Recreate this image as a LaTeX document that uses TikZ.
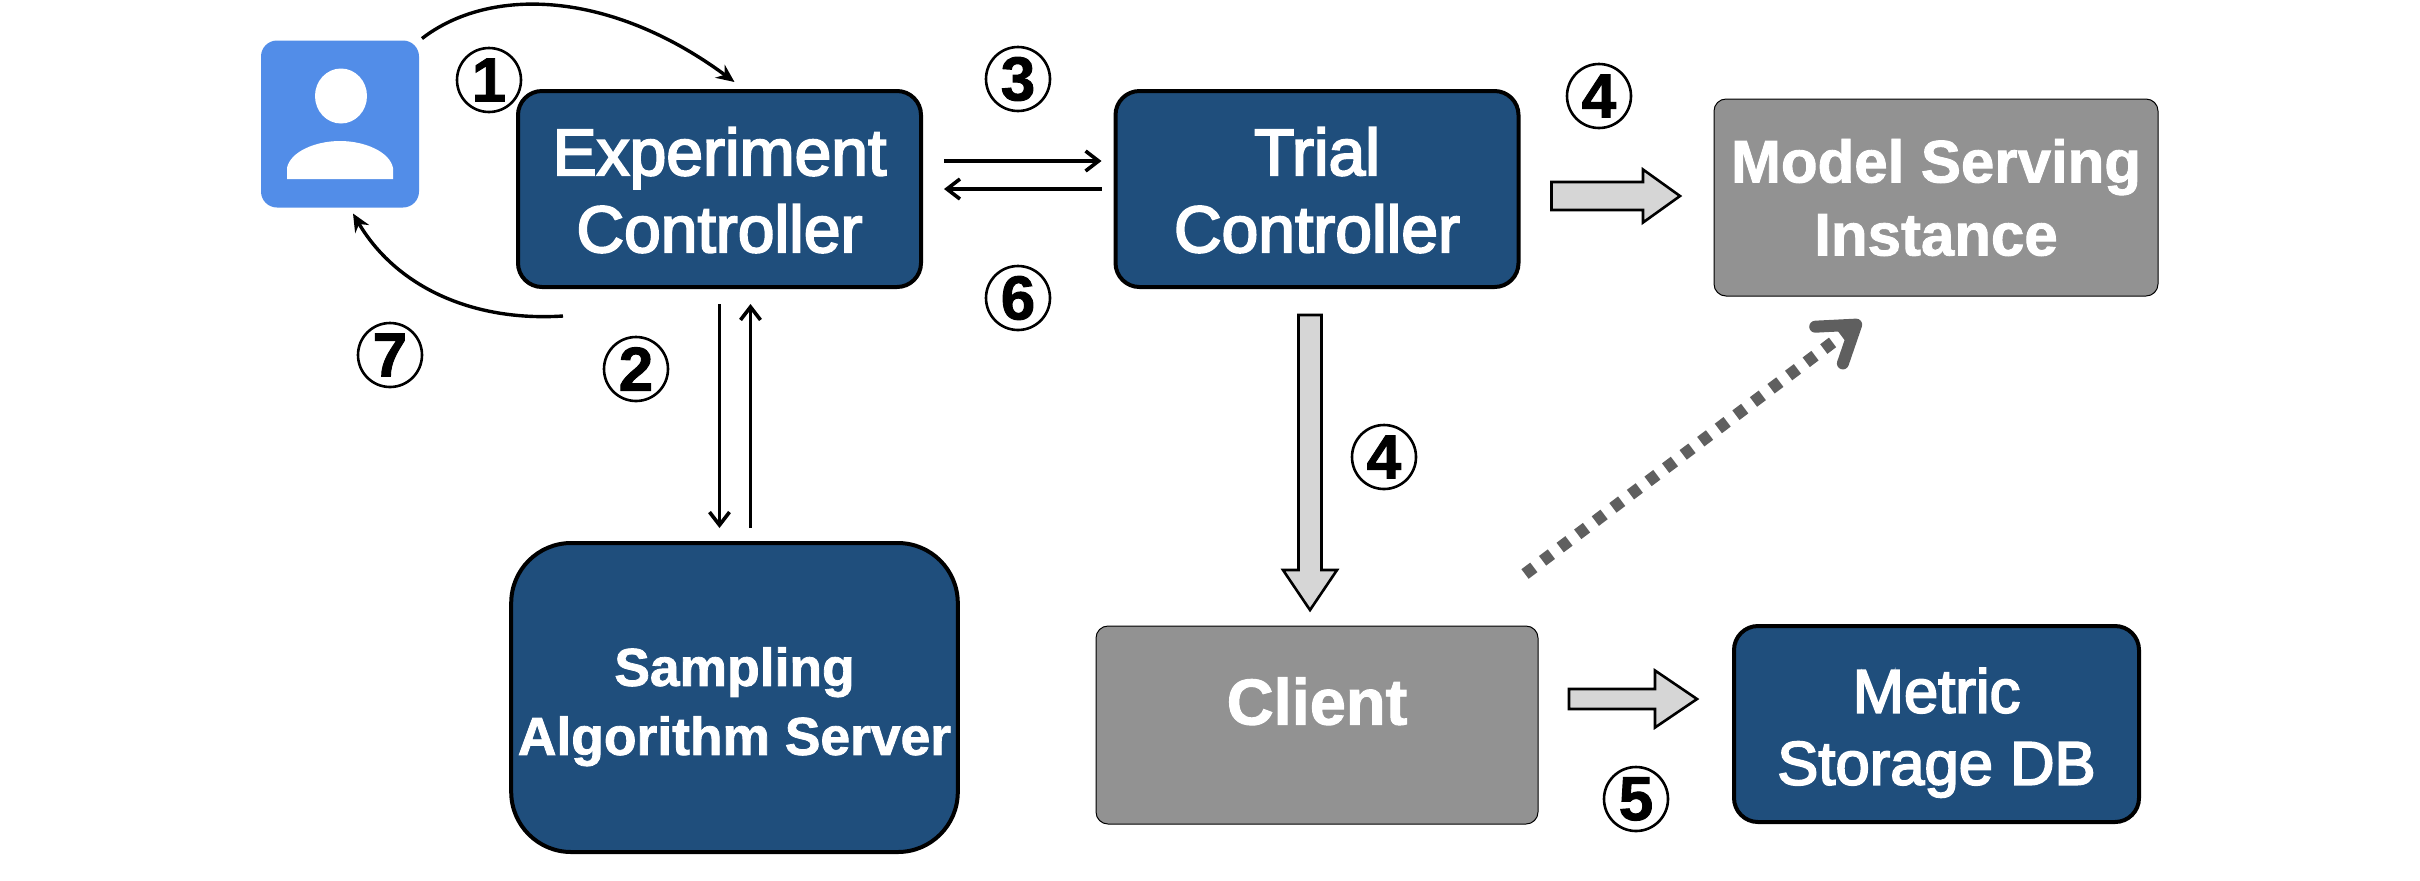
\documentclass[tikz,border=0pt]{standalone}
\usepackage{fontspec}
\setmainfont{Liberation Sans}
\newfontfamily\medfont[FakeBold=3]{Liberation Sans}
\newfontfamily\heavyfont[FakeBold=1.5]{Liberation Sans Bold}
\usetikzlibrary{arrows.meta,calc}
\definecolor{boxblue}{HTML}{1F4E7C}
\definecolor{boxgray}{HTML}{929292}
\definecolor{userblue}{HTML}{528DE8}
\definecolor{blocklight}{HTML}{D6D6D6}
\definecolor{dotgray}{HTML}{5F5F5F}

\begin{document}
\begin{tikzpicture}[
          x=0.5pt,y=-0.5pt,
          bluebox/.style={rectangle,draw=black,line width=2pt,fill=boxblue,text=white,align=center,
            rounded corners=12pt,outer sep=0pt,minimum width=201.5pt,minimum height=98pt},
          graybox/.style={rectangle,draw=black,line width=0.5pt,fill=boxgray,text=white,align=center,
            rounded corners=6pt,outer sep=0pt,minimum width=221pt,minimum height=99pt},
          nodeuser/.style={rectangle,fill=userblue,rounded corners=8pt,outer sep=0pt,
            minimum width=79pt,minimum height=83.5pt},
          nodestep/.style={circle,draw,line width=1.3pt,inner sep=0pt,minimum size=32pt,
            font=\heavyfont\fontsize{31}{31}\selectfont},
          thinarrow/.style={-{Straight Barb[length=6.5pt,width=10pt]},line width=1.8pt},
          curvearrow/.style={-{Stealth[length=9pt,width=8pt]},line width=1.7pt},
          blockarrow/.style n args={3}{draw=black,fill=blocklight,line width=1.3pt,to path={
            ($(\tikztotarget)!#3!(\tikztostart)$) coordinate (neck)
            ($(\tikztostart)!#1/2!90:(\tikztotarget)$) -- ($(neck)!#1/2!90:(\tikztotarget)$)
            -- ($(neck)!#2/2!90:(\tikztotarget)$) -- (\tikztotarget)
            -- ($(neck)!#2/2!-90:(\tikztotarget)$) -- ($(neck)!#1/2!-90:(\tikztotarget)$)
            -- ($(\tikztostart)!#1/2!-90:(\tikztotarget)$) -- cycle}}
        ]
        \useasboundingbox (0,0) rectangle (2420,880);

        \node[nodeuser] (user) at (340,124) {};
        \fill[white] (341,96) ellipse (26 and 27.5);
        \fill[white] (287,179) -- (287,168) .. controls (290,152) and (315,141) .. (340,141)
          .. controls (365,141) and (390,152) .. (393,168) -- (393,179) -- cycle;

        \node[bluebox,font=\medfont\fontsize{33}{38.5}\selectfont] (exper) at (719.5,189) {\rule{0pt}{25pt}Experiment\\Controller};
        \node[bluebox,font=\medfont\fontsize{33}{38.5}\selectfont] (trial) at (1317,189) {\rule{0pt}{25pt}Trial\\Controller};
        \node[graybox,font=\heavyfont\fontsize{30}{36.5}\selectfont,minimum width=222pt,minimum height=98.5pt] (model) at (1936,197.5) {Model Serving\\Instance};
        \node[bluebox,font=\heavyfont\fontsize{26.7}{34.5}\selectfont,rounded corners=30pt,minimum width=222.5pt,minimum height=154.5pt] (sampling) at (734.5,697.5) {\rule{0pt}{28.5pt}Sampling\\Algorithm Server};
        \node[graybox,font=\heavyfont\fontsize{32.5}{38}\selectfont,text depth=24pt] (client) at (1317,725) {Client};
        \node[bluebox,font=\medfont\fontsize{30.8}{36}\selectfont,minimum width=202.5pt] (metric) at (1936.5,724) {\rule{0pt}{31pt}Metric\\Storage DB};

        \node[nodestep] (n1) at (489,80) {1};
        \node[nodestep] (n2) at (636,369) {2};
        \node[nodestep] (n3) at (1018,79) {3};
        \node[nodestep] (n4a) at (1599,96) {4};
        \node[nodestep] (n4b) at (1384,457) {4};
        \node[nodestep] (n5) at (1636,799) {5};
        \node[nodestep] (n6) at (1018,298) {6};
        \node[nodestep] (n7) at (390,355) {7};

        \draw[curvearrow] ([shift={(3,-2)}]user.north east) .. controls (490,-14) and (610,-10) .. ([shift={(15,-9)}]exper.north);
        \draw[curvearrow] ([shift={(45,29)}]exper.south west) .. controls (470,322) and (395,285) .. ([shift={(13,6)}]user.south);

        \draw[thinarrow,shorten <=11.5pt,shorten >=7pt] ([yshift=14pt]exper.east) -- ([yshift=14pt]trial.west);
        \draw[thinarrow,shorten <=7pt,shorten >=11.5pt] (trial.west) -- (exper.east);
        \draw[thinarrow,shorten <=8.5pt,shorten >=7.5pt] (exper.south) -- (exper.south |- sampling.north);
        \draw[thinarrow,shorten <=7.5pt,shorten >=8.5pt] ([xshift=15.5pt]exper.south |- sampling.north) -- ([xshift=15.5pt]exper.south);

        \coordinate (trialout) at ([shift={(33,7)}]trial.east);
        \coordinate (modelin) at ([shift={(-34,-1.5)}]model.west);
        \coordinate (trialdown) at ([shift={(-7,28)}]trial.south);
        \coordinate (clientin) at ([shift={(-7,-16)}]client.north);
        \coordinate (clientout) at ([shift={(31,-26)}]client.east);
        \coordinate (metricin) at ([shift={(-37,-25)}]metric.west);

        \draw[blockarrow={14pt}{26.5pt}{18.5pt}] (trialout) to (modelin);
        \draw[blockarrow={11.5pt}{27pt}{20pt}] (trialdown) to (clientin);
        \draw[blockarrow={10pt}{28.5pt}{21pt}] (clientout) to (metricin);

        \draw[dotgray,line width=6pt,dash pattern=on 5.5pt off 5.5pt,-{Straight Barb[length=17pt,width=23pt,round]}]
          ([shift={(-13,-52)}]client.north east) -- ([shift={(-75,25)}]model.south);
\end{tikzpicture}
\end{document}
